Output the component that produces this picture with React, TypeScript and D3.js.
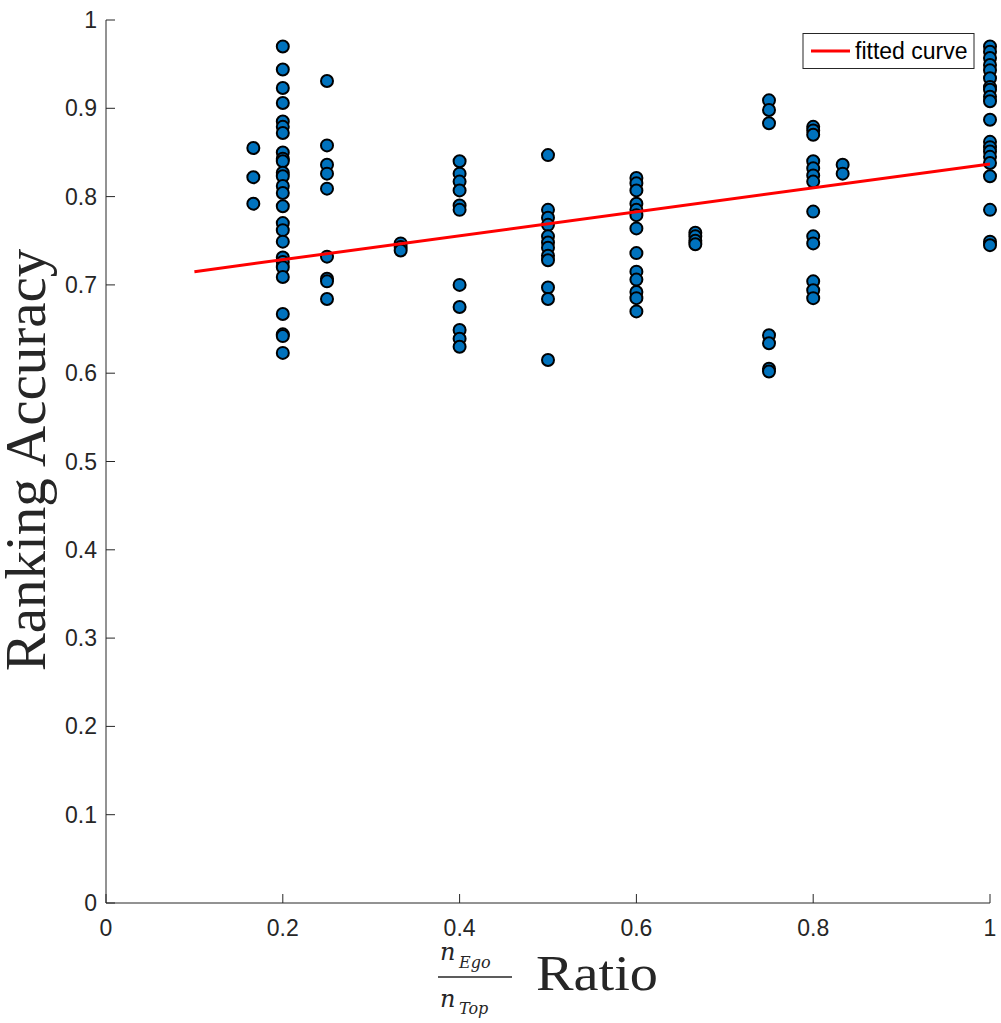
import React from "react";
import * as d3 from "d3";

// ---- data ----
const ratioGroups = [1 / 6, 0.2, 0.25, 1 / 3, 0.4, 0.5, 0.6, 2 / 3, 0.75, 0.8, 5 / 6, 1];
const acc_r0167 = [0.855, 0.822, 0.792];
const acc_r0200 = [0.970, 0.944, 0.923, 0.906, 0.885, 0.879, 0.872, 0.850, 0.843, 0.840, 0.827, 0.823, 0.812, 0.804, 0.789, 0.770, 0.762, 0.749, 0.731, 0.726, 0.720, 0.709, 0.667, 0.644, 0.642, 0.623];
const acc_r0250 = [0.931, 0.858, 0.836, 0.826, 0.809, 0.732, 0.707, 0.704, 0.684];
const acc_r0333 = [0.747, 0.743, 0.739];
const acc_r0400 = [0.840, 0.826, 0.817, 0.807, 0.790, 0.785, 0.700, 0.675, 0.649, 0.639, 0.630];
const acc_r0500 = [0.847, 0.785, 0.776, 0.768, 0.755, 0.748, 0.742, 0.733, 0.728, 0.697, 0.684, 0.615];
const acc_r0600 = [0.821, 0.815, 0.807, 0.792, 0.785, 0.779, 0.764, 0.736, 0.715, 0.706, 0.692, 0.685, 0.670];
const acc_r0667 = [0.759, 0.755, 0.750, 0.746];
const acc_r0750 = [0.909, 0.898, 0.883, 0.643, 0.634, 0.605, 0.602];
const acc_r0800 = [0.879, 0.875, 0.870, 0.840, 0.832, 0.824, 0.817, 0.783, 0.755, 0.747, 0.704, 0.694, 0.685];
const acc_r0833 = [0.836, 0.826];
const acc_r1000 = [0.970, 0.964, 0.957, 0.949, 0.943, 0.934, 0.924, 0.921, 0.913, 0.908, 0.887, 0.862, 0.856, 0.851, 0.845, 0.838, 0.823, 0.785, 0.749, 0.745];
const accuracyGroups = [acc_r0167, acc_r0200, acc_r0250, acc_r0333, acc_r0400, acc_r0500, acc_r0600, acc_r0667, acc_r0750, acc_r0800, acc_r0833, acc_r1000];

const fitX = [0.1, 1];
const fitY = [0.715, 0.837];

const xTicks = [0, 0.2, 0.4, 0.6, 0.8, 1];
const xTickLabels = ["0", "0.2", "0.4", "0.6", "0.8", "1"];
const yTicks = [0, 0.1, 0.2, 0.3, 0.4, 0.5, 0.6, 0.7, 0.8, 0.9, 1];
const yTickLabels = ["0", "0.1", "0.2", "0.3", "0.4", "0.5", "0.6", "0.7", "0.8", "0.9", "1"];

const legendLabel = "fitted curve";
const yLabel = "Ranking Accuracy";

export default function App() {
  const W = 1001, H = 1023;
  const x = d3.scaleLinear().domain([0, 1]).range([106, 990]);
  const y = d3.scaleLinear().domain([0, 1]).range([903, 20]);
  const axisColor = "#262626";
  const sans = "'Liberation Sans', Arial, Helvetica, sans-serif";
  const serif = "'Liberation Serif', 'Times New Roman', serif";
  const mathSerif = "'DejaVu Serif', 'Liberation Serif', serif";

  const points: { x: number; y: number }[] = [];
  ratioGroups.forEach((r, i) => accuracyGroups[i].forEach((a) => points.push({ x: r, y: a })));

  const line = d3.line<number>().x((d, i) => x(fitX[i])).y((d, i) => y(fitY[i]));

  const tickLen = 9;
  return (
    <svg width={W} height={H} style={{ position: "absolute", left: 0, top: 0, background: "#fff" }}>
      <rect x={0} y={0} width={W} height={H} fill="#fff" />
      {/* axes */}
      <line x1={x(0)} x2={x(1)} y1={y(0)} y2={y(0)} stroke={axisColor} strokeWidth={1} />
      <line x1={x(0)} x2={x(0)} y1={y(0)} y2={y(1)} stroke={axisColor} strokeWidth={1} />
      {xTicks.map((t, i) => (
        <g key={"xt" + i}>
          <line x1={x(t)} x2={x(t)} y1={y(0)} y2={y(0) - tickLen} stroke={axisColor} />
          <text x={x(t)} y={936} textAnchor="middle" fontFamily={sans} fontSize={23} fill={axisColor}>
            {xTickLabels[i]}
          </text>
        </g>
      ))}
      {yTicks.map((t, i) => (
        <g key={"yt" + i}>
          <line x1={x(0)} x2={x(0) + tickLen} y1={y(t)} y2={y(t)} stroke={axisColor} />
          <text x={97} y={y(t) + 8} textAnchor="end" fontFamily={sans} fontSize={23} fill={axisColor}>
            {yTickLabels[i]}
          </text>
        </g>
      ))}
      {/* points */}
      {points.map((p, i) => (
        <circle key={"p" + i} cx={x(p.x)} cy={y(p.y)} r={6} fill="#0072BD" stroke="#000" strokeWidth={2} />
      ))}
      {/* fitted line */}
      <path d={line(fitX) || ""} fill="none" stroke="#FF0000" strokeWidth={3} />
      {/* legend */}
      <rect x={803} y={33.5} width={171} height={35} fill="#fff" stroke={axisColor} strokeWidth={1} />
      <line x1={811} x2={850} y1={51} y2={51} stroke="#FF0000" strokeWidth={3} />
      <text x={855} y={59} fontFamily={sans} fontSize={23} fill="#000">{legendLabel}</text>
      {/* y label */}
      <text transform="translate(45,460) rotate(-90)" textAnchor="middle" fontFamily={serif} fontSize={57} fill={axisColor}>
        {yLabel}
      </text>
      {/* x label: fraction + Ratio */}
      <text x={440} y={960} fontFamily={mathSerif} fontStyle="italic" fontSize={24} fill={axisColor}>n</text>
      <text x={459} y={968} fontFamily={mathSerif} fontStyle="italic" fontSize={16} fill={axisColor}>Ego</text>
      <line x1={438} x2={512} y1={977} y2={977} stroke={axisColor} strokeWidth={1.5} />
      <text x={440} y={1007} fontFamily={mathSerif} fontStyle="italic" fontSize={24} fill={axisColor}>n</text>
      <text x={459} y={1014} fontFamily={mathSerif} fontStyle="italic" fontSize={16} fill={axisColor}>Top</text>
      <text x={536} y={990} fontFamily={serif} fontSize={50} fill={axisColor} textLength={122} lengthAdjust="spacingAndGlyphs">Ratio</text>
    </svg>
  );
}
